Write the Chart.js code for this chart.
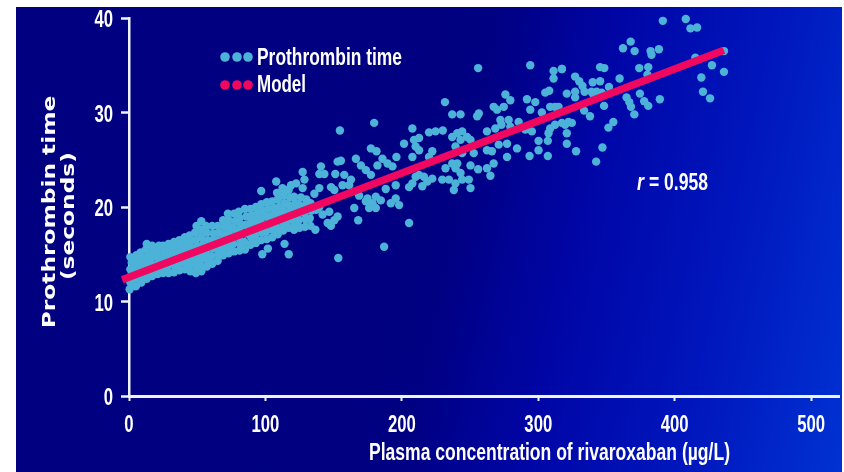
<!DOCTYPE html>
<html>
<head>
<meta charset="utf-8">
<style>
  html, body { margin: 0; padding: 0; background: #fff; }
  #wrap { position: relative; width: 844px; height: 472px; overflow: hidden; }
  #panel {
    position: absolute; left: 16px; top: 7px; width: 826px; height: 465px;
    background: linear-gradient(102deg, #000080 0%, #000082 52%, #0006a6 66%, #0016bc 82%, #0032d2 100%);
  }
  #c { position: absolute; left: 0; top: 0; filter: blur(0.5px); }
</style>
</head>
<body>
<div id="wrap">
  <div id="panel"></div>
  <canvas id="c" width="844" height="472"></canvas>
</div>
<script src="https://cdn.jsdelivr.net/npm/chart.js@4/dist/chart.umd.min.js"></script>
<script>
// tick values
const xTickValues = [0, 100, 200, 300, 400, 500];
const yTickValues = [0, 10, 20, 30, 40];

// model line
const modelConc = [-5, 436];
const modelTime = [12.3, 36.6];

// the solid band at low concentrations, read column by column
const bandConc = [
  0.5, 1, 1.5, 1, 2, 1,
  5, 4.5, 5.5, 5, 4.5, 5.5,
  9, 9.5, 8.5, 9, 9.5, 8.5,
  13, 13.5, 12.5, 13, 14, 12.5, 13,
  17, 17.5, 16.5, 17, 18, 17,
  21, 20.5, 21.5, 21, 20.5, 22,
  25, 25.5, 24.5, 25, 26, 25,
  29, 28.5, 29.5, 29, 30, 29,
  33, 33.5, 32.5, 33, 34, 33,
  37, 36.5, 37.5, 37, 38, 37,
  41, 41.5, 40.5, 41, 42, 41,
  45, 44.5, 45.5, 45, 46, 45, 44.5,
  49, 49.5, 48.5, 49, 50, 49, 48.5, 49.5,
  53, 52.5, 53.5, 53, 54, 53, 52.5, 53,
  57, 57.5, 56.5, 57, 58, 57, 56.5,
  61, 60.5, 61.5, 61, 62, 61,
  65, 65.5, 64.5, 65, 66, 65,
  69, 68.5, 69.5, 69, 70, 69,
  73, 73.5, 72.5, 73, 74, 73, 72.5,
  77, 76.5, 77.5, 77, 78, 77,
  81, 81.5, 80.5, 81, 82, 81, 80.5,
  85, 84.5, 85.5, 85, 86, 85,
  89, 89.5, 88.5, 89, 90, 89,
  93, 92.5, 93.5, 93, 94, 93,
  97, 97.5, 96.5, 97, 98, 97,
  101, 100.5, 101.5, 101, 102, 101,
  105, 105.5, 104.5, 105, 106, 105,
  109, 108.5, 109.5, 109, 110, 109, 108.5,
  113, 113.5, 112.5, 113, 114, 113, 112.5,
  117, 116.5, 117.5, 117, 118, 117,
  121, 121.5, 120.5, 121, 122, 121,
  125, 124.5, 125.5, 125, 126,
  129, 129.5, 128.5, 129, 130,
  133, 132.5, 133.5, 133
];
const bandTime = [
  11.3, 12.0, 12.7, 13.4, 14.1, 14.7,
  11.6, 12.3, 13.0, 13.6, 14.3, 14.9,
  12.0, 12.7, 13.3, 14.0, 14.6, 15.2,
  12.4, 13.0, 13.7, 14.3, 14.9, 15.5, 16.1,
  12.7, 13.4, 14.0, 14.7, 15.3, 15.9,
  12.9, 13.5, 14.1, 14.7, 15.3, 15.9,
  13.0, 13.6, 14.2, 14.8, 15.4, 15.9,
  13.0, 13.7, 14.3, 14.9, 15.5, 16.1,
  13.1, 13.8, 14.4, 15.0, 15.7, 16.3,
  13.3, 13.9, 14.5, 15.2, 15.9, 16.5,
  13.4, 14.1, 14.7, 15.4, 16.1, 16.8,
  13.2, 13.9, 14.5, 15.1, 15.7, 16.4, 17.0,
  13.0, 13.7, 14.4, 15.1, 15.8, 16.5, 17.3, 18.0,
  13.2, 13.9, 14.6, 15.3, 16.0, 16.8, 17.6, 18.5,
  13.7, 14.4, 15.1, 15.8, 16.5, 17.3, 18.0,
  14.0, 14.8, 15.6, 16.4, 17.2, 18.0,
  14.3, 15.0, 15.8, 16.5, 17.3, 18.0,
  14.9, 15.6, 16.3, 17.1, 17.9, 18.6,
  15.1, 15.8, 16.5, 17.2, 17.9, 18.6, 19.3,
  15.3, 16.1, 16.9, 17.7, 18.5, 19.3,
  15.4, 16.1, 16.8, 17.5, 18.1, 18.8, 19.5,
  15.5, 16.3, 17.2, 18.1, 19.0, 19.8,
  16.0, 16.8, 17.5, 18.3, 19.1, 19.8,
  16.2, 17.0, 17.8, 18.6, 19.3, 20.0,
  16.5, 17.3, 18.0, 18.8, 19.6, 20.3,
  16.6, 17.4, 18.2, 19.0, 19.8, 20.5,
  16.8, 17.6, 18.3, 19.1, 19.9, 20.6,
  17.1, 17.8, 18.6, 19.3, 20.0, 20.8, 21.5,
  17.5, 18.2, 18.9, 19.6, 20.4, 21.2, 22.0,
  17.8, 18.6, 19.4, 20.2, 21.0, 21.8,
  17.6, 18.3, 19.0, 19.7, 20.4, 21.1,
  17.8, 18.6, 19.4, 20.2, 21.0,
  17.9, 18.7, 19.4, 20.1, 20.8,
  18.0, 18.8, 19.6, 20.4
];

// the separate dots, left to right along the cloud
const scatterConc = [
  97.7, 101.8, 96.9, 107.9, 114, 117.1, 116.4, 118.8, 122.5, 127.3, 127.3, 128.6,
  135.9, 136.6, 137.1, 139.5, 139.5, 139.5, 140.7, 141.9, 143.2, 145.6, 146.8, 148,
  148.1, 150.5, 150.5, 151.2, 152.9, 152.9, 153.4, 154.6, 155.3, 156.5, 157.8,
  161.4, 162.7, 165.1, 166.3, 168, 168.7, 170, 173.6, 173.6, 174.8, 176, 177.3, 177.3,
  178.5, 179.7, 180.9, 180.9, 181.4, 182.1, 184.6, 185.8, 187, 188.2, 189.5, 191.9,
  193.1, 195.5, 195.5, 196, 198, 201.6, 205.3, 205.3, 207.7, 207.7, 207.7, 208.9, 210.1, 210.1,
  212.6, 212.6, 212.6, 215, 216.2, 218.7, 219.9, 219.9, 222.3, 222.3, 224.7,
  229.6, 230, 231.6, 232, 234.5, 236.9, 236.9, 236.9, 238.1, 239.3, 239.3, 239.3,
  240.6, 240.6, 243, 243, 243, 244.2, 244.2, 244.2, 247.8, 249.1, 250.3, 250.3, 250.3,
  252.7, 255.2, 255.9, 255.9, 256.4, 262.4, 262.4, 262.4, 264.9, 266, 267.3, 267.3,
  268.5, 269.8, 271, 272.2, 273, 274.7, 275.9, 277.1, 277.1, 278.3, 279.5, 279.5, 284.4, 285.6,
  290.5, 291.7, 293.6, 294.1, 294.1, 295.3, 297.8, 300.2, 300.2, 302.6, 305.1,
  307, 307, 307.5, 308, 308.7, 308.7, 311.2, 311.2, 312.3, 312.3, 314.8, 314.8,
  317.3, 317.3, 317.3, 319.7, 320.9, 320.9, 320.9, 322.1, 324.6, 327, 327, 327, 327.7,
  330, 332.4, 333.6, 333.9, 337.9, 339, 339.9, 340.4, 342.4, 342.8, 345.3, 345.3, 346.5, 347,
  348.2, 348.4, 351.4, 351.8, 355, 359.6, 362.1, 364.7, 366.7, 367.7, 367.9, 370.4, 370.6,
  374, 374.5, 377.6, 380, 380.6, 380.6, 382.3, 383, 388.4, 389.1, 391.3,
  408.1, 411.5, 415.1, 416.4, 419.5, 420.7, 425.9, 427.3, 436.1, 436.1
];
const scatterTime = [
  15.0, 15.6, 21.7, 22.7, 16.1, 15.0, 21.8, 22.3, 22.5, 23.7, 22.0, 22.9,
  21.4, 17.6, 19.7, 23.5, 22.0, 20.0, 24.3, 19.2, 23.5, 18.3, 19.5, 18.0,
  22.1, 21.8, 18.6, 23.5, 24.8, 19.0, 14.6, 28.1, 24.9, 22.3, 23.4,
  22.3, 22.9, 19.9, 25.1, 18.6, 21.2, 24.4, 23.9, 20.6, 20.9, 19.9, 26.2, 23.4,
  20.4, 28.9, 21.1, 19.9, 25.9, 24.4, 20.7, 25.1, 15.8, 21.9, 24.6, 20.4,
  24.3, 22.3, 20.9, 25.3, 20.2, 26.7, 22.1, 18.3, 28.3, 25.3, 22.5, 27.1, 26.4, 23.2,
  27.3, 26.0, 23.4, 22.2, 23.2, 22.7, 27.9, 25.3, 25.9, 23.0, 28.0,
  22.9, 28.1, 31.1, 24.1, 22.9, 29.8, 27.4, 24.6, 21.8, 26.4, 24.1, 22.5,
  27.8, 24.6, 29.8, 27.1, 23.6, 28.0, 25.7, 22.9, 27.4, 22.9, 27.1, 24.4, 22.0,
  25.7, 29.6, 34.7, 24.0, 29.9, 28.0, 26.0, 24.1, 23.3, 25.9, 30.6, 24.6,
  28.3, 30.3, 26.6, 29.2, 28.7, 30.6, 31.9, 26.7, 25.3, 29.2, 31.3, 28.5, 26.2, 29.0,
  28.2, 31.4, 25.4, 35.0, 30.3, 28.0, 31.1, 27.0, 26.0, 30.0, 32.1,
  27.0, 25.4, 27.8, 32.3, 30.6, 28.3, 34.4, 33.6, 30.6, 28.7, 30.6, 30.3,
  34.6, 34.6, 28.9, 28.7, 32.0, 27.8, 26.7, 29.0, 28.9, 33.8, 32.2, 31.6, 25.9,
  33.3, 32.8, 30.2, 32.2, 29.6, 32.2, 33.2, 31.9, 24.8, 32.2, 34.8, 33.3, 32.1, 26.3,
  30.7, 34.7, 28.4, 32.7, 29.0, 33.6, 36.8, 31.6, 31.1, 37.5, 30.6, 29.8, 36.5,
  34.7, 32.0, 31.2, 34.0, 34.8, 30.7, 36.5, 36.1, 36.7, 31.4, 39.7,
  39.9, 38.9, 35.8, 39.0, 33.7, 32.2, 31.5, 35.0, 36.5, 34.3
];

const dotColor = '#4cb2d8';
const lineColor = '#f0075f';
const axisColor = '#eef3ff';
const sans = '"Liberation Sans", sans-serif';

function zip(xs, ys) {
  return xs.map((x, i) => ({ x: x, y: ys[i] }));
}

// the slide uses a condensed face that is not installed, so text is squeezed with maxWidth
const slideText = {
  id: 'slideText',
  afterDraw(chart) {
    const ctx = chart.ctx;
    const xScale = chart.scales.x;
    const yScale = chart.scales.y;
    ctx.save();
    ctx.textBaseline = 'alphabetic';

    [[57, dotColor], [85, lineColor]].forEach(row => {
      ctx.fillStyle = row[1];
      [225, 237, 248].forEach(x => {
        ctx.beginPath();
        ctx.arc(x, row[0], 4.8, 0, Math.PI * 2);
        ctx.fill();
      });
    });

    ctx.fillStyle = '#fff';
    ctx.font = 'bold 24px ' + sans;
    ctx.fillText('Prothrombin time', 257, 65, 145);
    ctx.fillText('Model', 257, 92, 49);

    ctx.font = 'italic bold 24px ' + sans;
    ctx.fillText('r', 637, 190, 7);
    ctx.font = 'bold 24px ' + sans;
    ctx.fillText('= 0.958', 649, 190, 59);
    ctx.font = 'bold 23px ' + sans;
    ctx.fillText('Plasma concentration of rivaroxaban (µg/L)', 369, 460, 361);

    // tick labels, placed by the scales
    ctx.font = 'bold 23px ' + sans;
    ctx.textAlign = 'center';
    xTickValues.forEach(v => {
      ctx.fillText(String(v), xScale.getPixelForValue(v), 432, String(v).length * 9.3);
    });
    ctx.textAlign = 'right';
    yTickValues.forEach(v => {
      ctx.fillText(String(v), 113, yScale.getPixelForValue(v) + 9, String(v).length * 9.3);
    });

    // y title is wider than the font, stretch it along the axis
    ctx.textAlign = 'center';
    ctx.translate(55, 212);
    ctx.rotate(-Math.PI / 2);
    ctx.scale(1.37, 1);
    ctx.font = 'bold 17px "DejaVu Sans", sans-serif';
    ctx.fillText('Prothrombin time', 0, 0);
    ctx.fillText('(seconds)', -3, 19);
    ctx.restore();
  }
};

new Chart(document.getElementById('c'), {
  type: 'scatter',
  data: {
    datasets: [
      {
        label: 'Model',
        data: zip(modelConc, modelTime),
        showLine: true,
        borderColor: lineColor,
        borderWidth: 7.5,
        pointRadius: 0,
        clip: false,
        order: 0
      },
      {
        label: 'Prothrombin time',
        data: zip(bandConc, bandTime).concat(zip(scatterConc, scatterTime)),
        backgroundColor: dotColor,
        borderWidth: 0,
        pointRadius: 4.2,
        clip: false,
        order: 1
      }
    ]
  },
  options: {
    responsive: false,
    animation: false,
    layout: { padding: { top: 18, right: 2, left: 0, bottom: 0 } },
    plugins: { legend: { display: false }, tooltip: { enabled: false } },
    scales: {
      x: {
        type: 'linear',
        min: 0,
        max: 521,
        afterBuildTicks(axis) { axis.ticks = xTickValues.map(v => ({ value: v })); },
        afterFit(axis) { axis.height = 76; },
        border: { color: axisColor, width: 3 },
        grid: { drawOnChartArea: false, color: axisColor, tickLength: 5, tickWidth: 2 },
        ticks: { display: false }
      },
      y: {
        type: 'linear',
        min: 0,
        max: 40,
        afterBuildTicks(axis) { axis.ticks = yTickValues.map(v => ({ value: v })); },
        afterFit(axis) { axis.width = 129; },
        border: { color: axisColor, width: 2.5 },
        grid: { drawOnChartArea: false, color: axisColor, tickLength: 8, tickWidth: 2.5 },
        ticks: { display: false }
      }
    }
  },
  plugins: [slideText]
});
</script>
</body>
</html>
